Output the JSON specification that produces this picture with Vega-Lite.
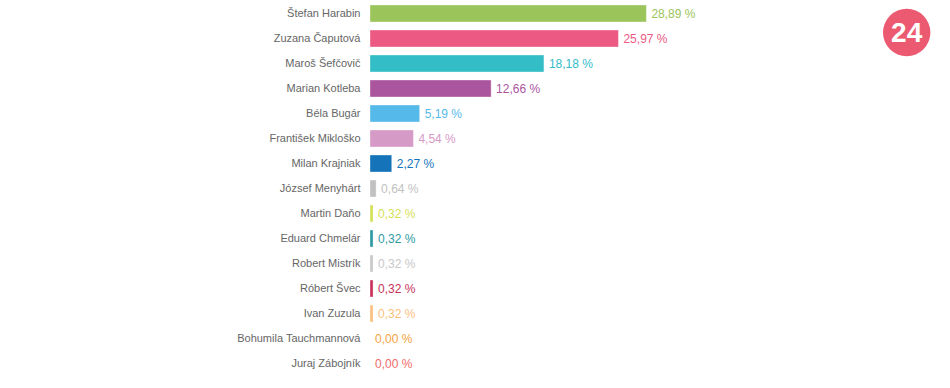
{
  "$schema": "https://vega.github.io/schema/vega-lite/v6.json",
  "width": 574,
  "height": 375,
  "autosize": {"type": "none"},
  "padding": {"left": 370, "top": 1, "right": 6, "bottom": 12},
  "background": "white",
  "config": {"view": {"stroke": null}, "font": "Liberation Sans"},
  "datasets": {
    "votes": [
      {"name": "Štefan Harabin", "value": 28.89, "color": "#9bc45a"},
      {"name": "Zuzana Čaputová", "value": 25.97, "color": "#ec5a83"},
      {"name": "Maroš Šefčovič", "value": 18.18, "color": "#33bdc7"},
      {"name": "Marian Kotleba", "value": 12.66, "color": "#ab559f"},
      {"name": "Béla Bugár", "value": 5.19, "color": "#55b9e9"},
      {"name": "František Mikloško", "value": 4.54, "color": "#d69ac6"},
      {"name": "Milan Krajniak", "value": 2.27, "color": "#1574b9"},
      {"name": "József Menyhárt", "value": 0.64, "color": "#c1c1c1"},
      {"name": "Martin Daňo", "value": 0.32, "color": "#d4e157"},
      {"name": "Eduard Chmelár", "value": 0.32, "color": "#2d99a3"},
      {"name": "Robert Mistrík", "value": 0.32, "color": "#c8c8c8"},
      {"name": "Róbert Švec", "value": 0.32, "color": "#c8325a"},
      {"name": "Ivan Zuzula", "value": 0.32, "color": "#fbc080"},
      {"name": "Bohumila Tauchmannová", "value": 0.0, "color": "#f7a23e"},
      {"name": "Juraj Zábojník", "value": 0.0, "color": "#ee6a6a"}
    ],
    "logo": [
      {"name": "Štefan Harabin", "value": 56.1, "label": "24"}
    ]
  },
  "layer": [
    {
      "data": {"name": "votes"},
      "mark": {"type": "bar", "strokeWidth": 1, "strokeOpacity": 0.35, "stroke": "white"},
      "encoding": {
        "y": {
          "field": "name", "type": "nominal", "sort": null,
          "scale": {"paddingInner": 0.32, "paddingOuter": 0.16},
          "axis": {"title": null, "ticks": false, "domain": false, "labelPadding": 10, "labelFontSize": 11, "labelColor": "#666666", "labelFont": "Liberation Sans", "labelLimit": 300}
        },
        "x": {"field": "value", "type": "quantitative", "scale": {"domain": [0, 60], "nice": false}, "axis": null},
        "color": {"field": "color", "type": "nominal", "scale": null}
      }
    },
    {
      "data": {"name": "votes"},
      "transform": [{"calculate": "replace(format(datum.value, '.2f'), '.', ',') + ' %'", "as": "label"}],
      "mark": {"type": "text", "align": "left", "baseline": "middle", "dx": 5, "fontSize": 12, "font": "Liberation Sans"},
      "encoding": {
        "y": {"field": "name", "type": "nominal", "sort": null},
        "x": {"field": "value", "type": "quantitative"},
        "text": {"field": "label"},
        "color": {"field": "color", "type": "nominal", "scale": null}
      }
    },
    {
      "data": {"name": "logo"},
      "mark": {"type": "point", "filled": true, "size": 2250, "color": "#ec5a72", "opacity": 1, "yOffset": 19},
      "encoding": {
        "y": {"field": "name", "type": "nominal", "sort": null},
        "x": {"field": "value", "type": "quantitative"}
      }
    },
    {
      "data": {"name": "logo"},
      "mark": {"type": "text", "align": "center", "baseline": "middle", "yOffset": 20, "fontSize": 28, "fontWeight": "bold", "color": "white", "font": "Liberation Sans", "letterSpacing": -3},
      "encoding": {
        "y": {"field": "name", "type": "nominal", "sort": null},
        "x": {"field": "value", "type": "quantitative"},
        "text": {"field": "label"}
      }
    }
  ]
}
